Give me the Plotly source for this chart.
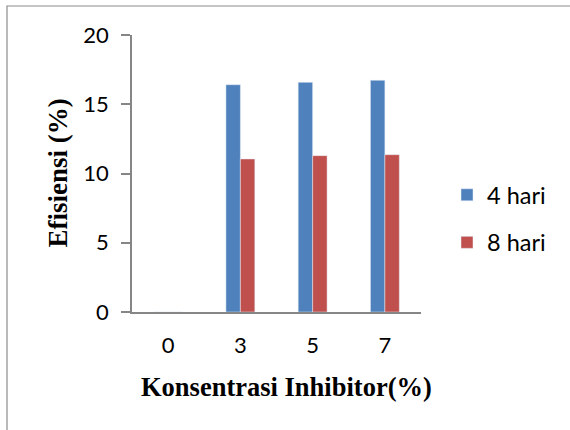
import plotly.graph_objects as go

categories = ["0", "3", "5", "7"]
hari4 = [0, 16.41, 16.58, 16.73]
hari8 = [0, 11.05, 11.29, 11.36]
yticks = [0, 5, 10, 15, 20]

L, R, T, B = 132, 149, 35, 118
W, H = 570, 430
pw, ph = W - L - R, H - T - B

fig = go.Figure()
fig.add_trace(go.Bar(x=categories, y=hari4, name="4 hari", marker_color="#4F81BD",
                     legendgroup="a"))
fig.add_trace(go.Bar(x=categories, y=hari8, name="8 hari", marker_color="#C0504D",
                     legendgroup="b"))

fig.update_layout(
    width=W, height=H,
    margin=dict(l=L, r=R, t=T, b=B, pad=0),
    paper_bgcolor="white", plot_bgcolor="white",
    barmode="group", bargap=0.6, bargroupgap=0,
    font=dict(family="Lato", size=22, color="black"),
    showlegend=True,
    legend=dict(x=(447 - L) / pw, xanchor="left", y=(312 - 219) / ph, yanchor="middle",
                font=dict(family="Lato", size=23.5, color="black"),
                tracegroupgap=14, bgcolor="rgba(0,0,0,0)"),
    xaxis=dict(type="category", showline=True, linecolor="#868686", linewidth=1.5,
               ticks="outside", ticklen=13, tickcolor="rgba(0,0,0,0)",
               showgrid=False, zeroline=False),
    yaxis=dict(range=[0, 20], tickvals=yticks, showline=True, linecolor="#868686",
               linewidth=1.5, ticks="outside", ticklen=9, tickcolor="#868686",
               tickwidth=1.5, showgrid=False, zeroline=False, ticklabelstandoff=8),
    shapes=[dict(type="rect", xref="paper", yref="paper",
                 x0=(7 - L) / pw, x1=(W + 10 - L) / pw,
                 y0=-(H + 10 - 312) / ph, y1=1 + (T - 6) / ph,
                 line=dict(color="#8C8C8C", width=1.2), fillcolor="rgba(0,0,0,0)")],
    annotations=[
        dict(text="<b>Konsentrasi Inhibitor(%)</b>", xref="paper", yref="paper",
             x=(286 - L) / pw, y=(312 - 387) / ph, xanchor="center", yanchor="middle",
             showarrow=False, font=dict(family="Liberation Serif", size=26.5, color="black")),
        dict(text="<b>Efisiensi (%)</b>", xref="paper", yref="paper",
             x=(57 - L) / pw, y=0.5, xanchor="center", yanchor="middle", textangle=-90,
             showarrow=False, font=dict(family="Liberation Serif", size=27, color="black")),
    ],
)

fig.write_html("out.html")
